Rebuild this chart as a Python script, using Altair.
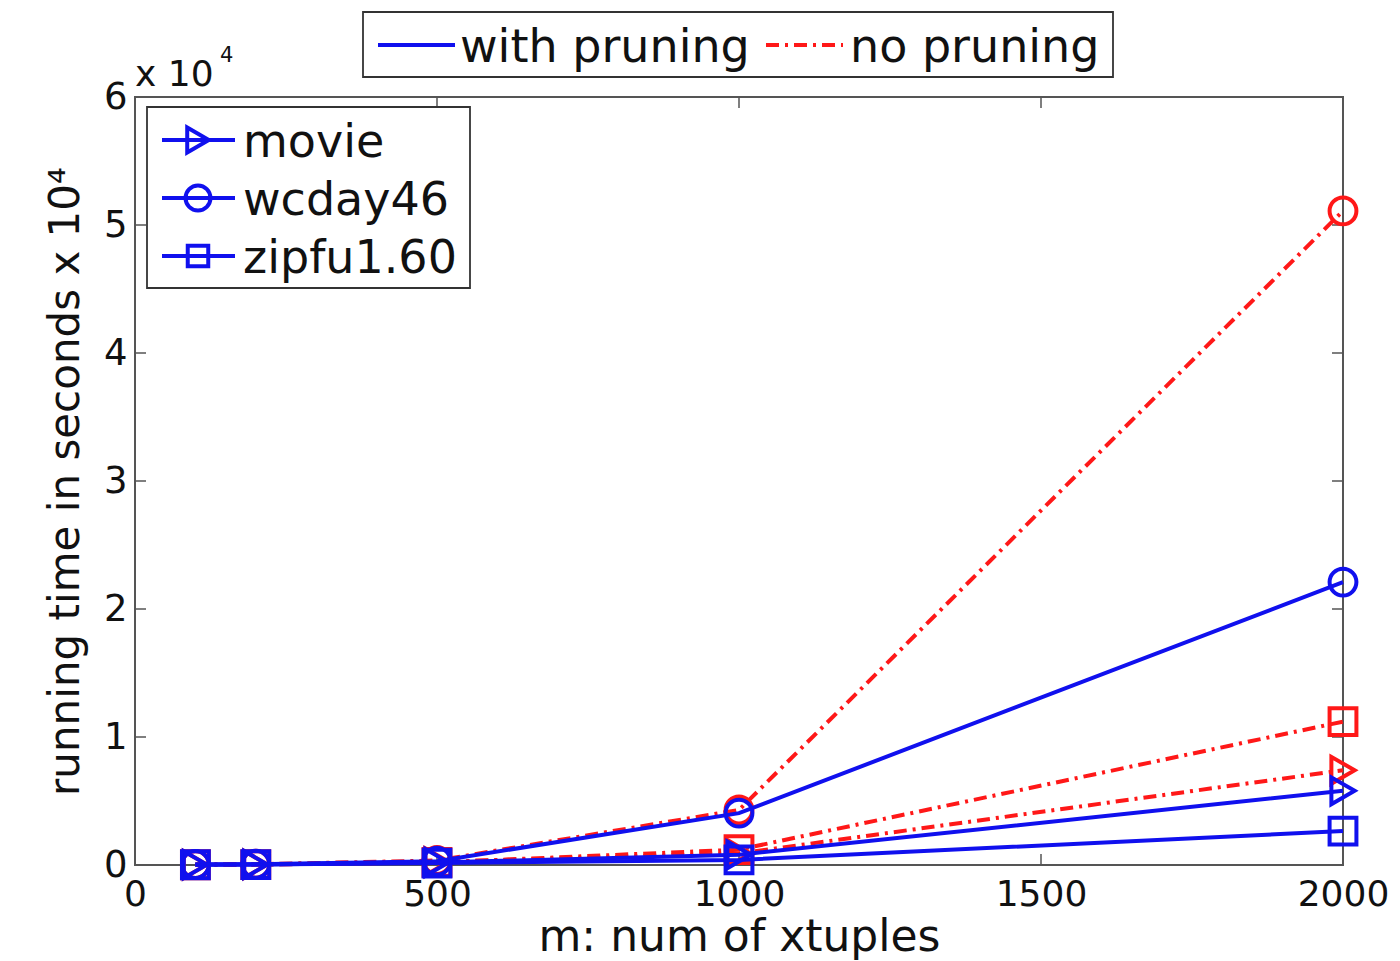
import altair as alt
import pandas as pd

m_values = [100, 200, 500, 1000, 2000]
datasets = ["movie", "wcday46", "zipfu1.60"]
methods = ["with pruning", "no pruning"]

with_movie = [30, 40, 200, 800, 5800]
with_wcday = [40, 60, 300, 4050, 22100]
with_zipfu = [20, 30, 150, 400, 2650]
no_movie = [30, 40, 250, 900, 7400]
no_wcday = [40, 60, 350, 4300, 51100]
no_zipfu = [20, 30, 200, 1200, 11200]

x_ticks = [0, 500, 1000, 1500, 2000]
y_ticks = [0, 10000, 20000, 30000, 40000, 50000, 60000]

series = {
    ("with pruning", "movie"): with_movie,
    ("with pruning", "wcday46"): with_wcday,
    ("with pruning", "zipfu1.60"): with_zipfu,
    ("no pruning", "movie"): no_movie,
    ("no pruning", "wcday46"): no_wcday,
    ("no pruning", "zipfu1.60"): no_zipfu,
}
rows = []
for (meth, ds), vals in series.items():
    for m, v in zip(m_values, vals):
        rows.append({"m": m, "time": v, "dataset": ds, "method": meth})
df = pd.DataFrame(rows)

BLUE = "#1010ee"
RED = "#ff1818"
W, H = 1208, 768
FONT = "DejaVu Sans"
TXT = "#111111"
LW = 4

xs = alt.Scale(domain=[0, 2000], nice=False, zero=False)
ys = alt.Scale(domain=[0, 60000], nice=False)
shape_scale = alt.Scale(domain=datasets, range=["triangle-right", "circle", "square"])
size_scale = alt.Scale(domain=datasets, range=[720, 720, 470])

XAX = alt.Axis(values=x_ticks, ticks=False, domain=False, grid=False, format="d",
               labelFontSize=36, labelFont=FONT, labelColor=TXT, labelPadding=12,
               labelFlush=False, labelOverlap=False,
               title="m: num of xtuples", titleFontSize=44, titleFont=FONT,
               titleFontWeight="normal", titleColor=TXT, titlePadding=3)
YAX = alt.Axis(values=y_ticks, ticks=False, domain=False, grid=False,
               labelExpr="datum.value / 10000", labelOverlap=False,
               labelFontSize=37, labelFont=FONT, labelColor=TXT, labelPadding=8,
               title="running time in seconds x 10\u2074", titleFontSize=42, titleFont=FONT,
               titleFontWeight="normal", titleColor=TXT, titlePadding=16)


def X():
    return alt.X("m:Q", scale=xs, axis=XAX)


def Y():
    return alt.Y("time:Q", scale=ys, axis=YAX)


def series_layers(meth, color, dash):
    sub = df[df.method == meth]
    base = alt.Chart(sub)
    lkw = dict(color=color, strokeWidth=LW)
    if dash:
        lkw["strokeDash"] = dash
    line = base.mark_line(**lkw).encode(x=X(), y=Y(), detail="dataset:N")
    pts = base.mark_point(color=color, filled=False, strokeWidth=LW, opacity=1).encode(
        x=X(), y=Y(),
        shape=alt.Shape("dataset:N", scale=shape_scale, legend=None),
        size=alt.Size("dataset:N", scale=size_scale, legend=None),
    )
    return [line, pts]


one = pd.DataFrame({"a": [0]})

border = alt.Chart(one).mark_rect(fill="white", stroke="#555555", strokeWidth=2).encode(
    x=alt.value(0), x2=alt.value(W), y=alt.value(0), y2=alt.value(H))

axes_layer = alt.Chart(pd.DataFrame({"m": [0], "time": [0]})).mark_point(opacity=0).encode(x=X(), y=Y())

TICK = 11
tick_color = "#555555"
xt = pd.DataFrame({"m": x_ticks[1:-1]})
yt = pd.DataFrame({"time": y_ticks[1:-1]})
xtick_bottom = alt.Chart(xt).mark_rule(color=tick_color, strokeWidth=1.5).encode(
    x=X(), y=alt.value(H), y2=alt.value(H - TICK))
xtick_top = alt.Chart(xt).mark_rule(color=tick_color, strokeWidth=1.5).encode(
    x=X(), y=alt.value(0), y2=alt.value(TICK))
ytick_left = alt.Chart(yt).mark_rule(color=tick_color, strokeWidth=1.5).encode(
    y=Y(), x=alt.value(0), x2=alt.value(TICK))
ytick_right = alt.Chart(yt).mark_rule(color=tick_color, strokeWidth=1.5).encode(
    y=Y(), x=alt.value(W), x2=alt.value(W - TICK))


def box(x1, x2, y1, y2):
    return alt.Chart(one).mark_rect(fill="white", stroke="#333333", strokeWidth=1.8).encode(
        x=alt.value(x1), x2=alt.value(x2), y=alt.value(y1), y2=alt.value(y2))


def seg(x1, x2, y, color, dash=None):
    kw = dict(color=color, strokeWidth=LW)
    if dash:
        kw["strokeDash"] = dash
    return alt.Chart(one).mark_rule(**kw).encode(x=alt.value(x1), x2=alt.value(x2), y=alt.value(y))


def txt(x, y, s, size=46, align="left", baseline="alphabetic"):
    return alt.Chart(one).mark_text(text=s, font=FONT, fontSize=size, color=TXT,
                                    align=align, baseline=baseline).encode(x=alt.value(x), y=alt.value(y))


def marker(x, y, shape, size):
    return alt.Chart(one).mark_point(shape=shape, filled=False, color=BLUE, strokeWidth=LW,
                                     opacity=1, size=size).encode(x=alt.value(x), y=alt.value(y))


DASH = [13, 6, 3, 6]

legend_top = [
    box(228, 978, -85, -20),
    seg(243, 320, -52, BLUE),
    txt(325, -35, "with pruning"),
    seg(631, 708, -52, RED, DASH),
    txt(715, -35, "no pruning"),
]
legend_in = [box(12, 335, 10, 191)]
for i, (ds, shp, sz) in enumerate(zip(datasets, ["triangle-right", "circle", "square"], [620, 620, 420])):
    yy = 43 + i * 58
    legend_in += [seg(27, 100, yy, BLUE), marker(63, yy, shp, sz), txt(108, yy + 17, ds)]

factor = [txt(0, -11, "x 10", size=36), txt(85, -35, "4", size=21)]

layers = [border, axes_layer, xtick_bottom, xtick_top, ytick_left, ytick_right]
layers += series_layers("no pruning", RED, DASH)
layers += series_layers("with pruning", BLUE, None)
layers += legend_in + legend_top + factor

chart = alt.layer(*layers).properties(
    width=W, height=H,
    padding={"left": 135, "top": 97, "right": 57, "bottom": 96},
    autosize=alt.AutoSizeParams(type="none"),
).configure_view(stroke=None).configure(background="white")

chart.save("out.html", embed_options={"renderer": "svg", "actions": False})
